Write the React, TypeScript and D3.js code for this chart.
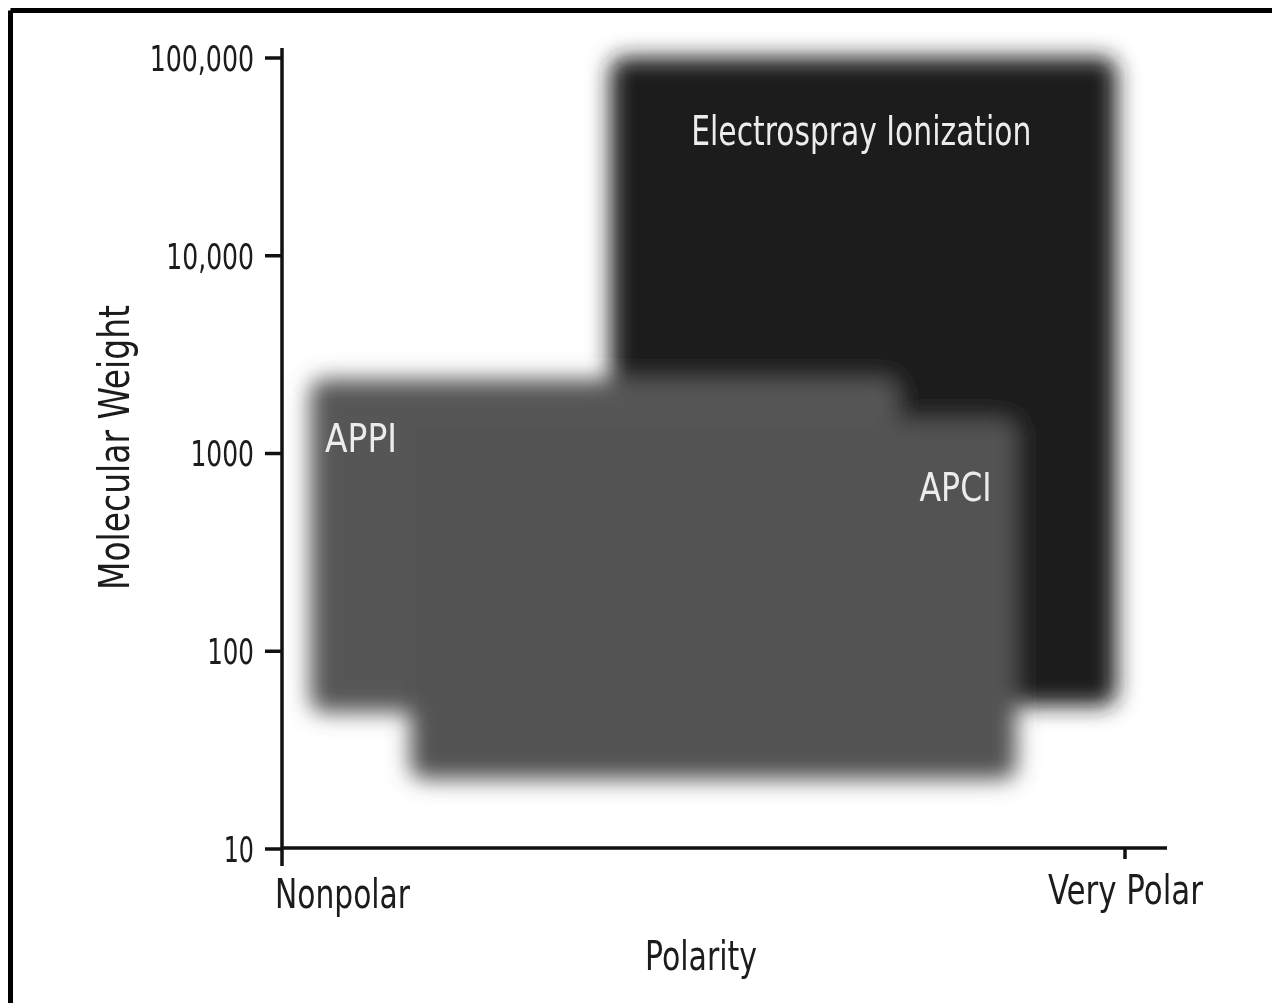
import React from "react";
import * as d3 from "d3";

// Ionization technique regions (polarity 0 = nonpolar, 1 = very polar; molecular weight in Da)
const regionNames = ["Electrospray Ionization", "APPI", "APCI"];
const polarityMin = [0.388, 0.031, 0.150];
const polarityMax = [0.990, 0.73, 0.871];
const mwMin = [53, 49, 22.5];
const mwMax = [101000, 2380, 1490];
const regionFill = ["#1b1b1b", "#575757", "#525252"];

const yTicks = [10, 100, 1000, 10000, 100000];
const yTickLabels = ["10", "100", "1000", "10,000", "100,000"];
const xTicks = [0, 1];
const xTickLabels = ["Nonpolar", "Very Polar"];

const W = 1272;
const H = 1003;
const FONT = "'Liberation Sans Narrow', 'DejaVu Sans Condensed', 'Roboto Condensed', sans-serif";

// approximate widths of condensed lettering per em
const narrowWidth = (s: string, size: number) => {
  let w = 0;
  for (const c of s) {
    if (c === "1") w += 0.36;
    else if ("0123456789".includes(c)) w += 0.44;
    else if (c === ",") w += 0.2;
    else if (c === " ") w += 0.22;
    else w += 0.45;
  }
  return w * size;
};

export default function App() {
  const x = d3.scaleLinear().domain([0, 1]).range([284, 1125]);
  const y = d3.scaleLog().domain([10, 100000]).range([849, 58]);
  const axisX = 282;
  const axisY = 848;

  const rects = regionNames.map((name, i) => ({
    name,
    x0: x(polarityMin[i]),
    x1: x(polarityMax[i]),
    y0: y(mwMax[i]),
    y1: y(mwMin[i]),
    fill: regionFill[i],
  }));

  const esi = rects[0];
  const appi = rects[1];
  const apci = rects[2];

  const T = (props: any) => {
    const { children, size, width, ...rest } = props;
    return (
      <text
        fontSize={size}
        textLength={width}
        lengthAdjust="spacingAndGlyphs"
        {...rest}
      >
        {children}
      </text>
    );
  };

  return (
    <svg
      width={W}
      height={H}
      style={{ position: "absolute", left: 0, top: 0, background: "#fff" }}
      fontFamily={FONT}
    >
      <defs>
        <filter id="blur" x="-20%" y="-20%" width="140%" height="140%">
          <feGaussianBlur stdDeviation="11" />
        </filter>
        <filter id="soft" x="-10%" y="-10%" width="120%" height="120%">
          <feGaussianBlur stdDeviation="0.7" />
        </filter>
      </defs>
      <rect x={0} y={0} width={W} height={H} fill="#fff" />
      {/* frame */}
      <line x1={10.5} y1={10.5} x2={W} y2={10.5} stroke="#000" strokeWidth={5} />
      <line x1={10.5} y1={10.5} x2={10.5} y2={H} stroke="#000" strokeWidth={5} />

      {/* regions */}
      <g filter="url(#blur)">
        {rects.map((r) => (
          <rect
            key={r.name}
            x={r.x0}
            y={r.y0}
            width={r.x1 - r.x0}
            height={r.y1 - r.y0}
            rx={14}
            fill={r.fill}
          />
        ))}
      </g>

      {/* region labels */}
      <g fill="#ececec" filter="url(#soft)">
        <T x={esi.x0 + 81} y={esi.y0 + 88} size={40} width={340}>
          {esi.name}
        </T>
        <T x={appi.x0 + 15} y={appi.y0 + 73} size={39} width={72}>
          {appi.name}
        </T>
        <T x={apci.x1 - 97} y={apci.y0 + 82} size={39} width={72}>
          {apci.name}
        </T>
      </g>

      {/* axes */}
      <g stroke="#111" strokeWidth={3.5} fill="none">
        <line x1={axisX} y1={48} x2={axisX} y2={866} />
        <line x1={axisX} y1={axisY} x2={1167} y2={axisY} />
        {yTicks.map((t) => (
          <line key={t} x1={265} x2={axisX} y1={y(t)} y2={y(t)} />
        ))}
        {xTicks.slice(1).map((t) => (
          <line key={t} x1={x(t)} x2={x(t)} y1={axisY} y2={axisY + 11} />
        ))}
      </g>

      <g fill="#1a1a1a" filter="url(#soft)">
        {yTicks.map((t, i) => (
          <T
            key={t}
            x={254}
            y={y(t)}
            dy="0.36em"
            textAnchor="end"
            size={36}
            width={narrowWidth(yTickLabels[i], 36) * 1.05}
          >
            {yTickLabels[i]}
          </T>
        ))}
        <T x={x(xTicks[0]) - 9} y={908} size={40} width={135}>
          {xTickLabels[0]}
        </T>
        <T x={x(xTicks[1]) - 77} y={904} size={40} width={155}>
          {xTickLabels[1]}
        </T>
        <T x={645} y={970} size={40} width={112}>
          Polarity
        </T>
        <T
          transform={`translate(129, ${590}) rotate(-90)`}
          size={43}
          width={285}
        >
          Molecular Weight
        </T>
      </g>
    </svg>
  );
}
